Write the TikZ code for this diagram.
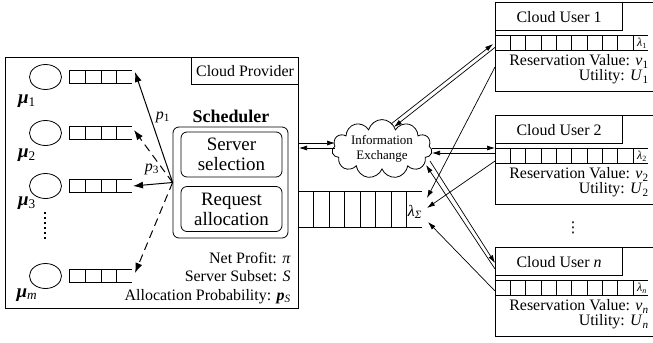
\documentclass[tikz,border=0pt]{standalone}
\usepackage{fontspec}
\setmainfont{Liberation Serif}
\newfontfamily\symbfont{DejaVu Sans}
\usetikzlibrary{arrows.meta,shapes.geometric,shapes.symbols}

\newcommand{\lowidx}[1]{\textsubscript{#1}}

\begin{document}
\begin{tikzpicture}[x=1bp,y=-1bp,line width=0.8bp,
    every node/.style={font=\fontsize{16}{15}\selectfont,inner sep=0pt},
    box/.style={draw,line width=1.1bp},
    roundbox/.style={draw,rounded corners=6bp},
    server/.style={draw,ellipse,minimum width=32bp,minimum height=25bp},
    bigtip/.style={-{Latex[length=10bp,width=7bp]},line width=1bp},
    smalltip/.style={-{Latex[length=8bp,width=5bp]},line width=0.7bp}]
    \useasboundingbox (0,0) rectangle (653,342);

    \node[box,anchor=north west,minimum width=293bp,minimum height=251bp] (provider) at (5,57) {};
    \node[box,anchor=north east,minimum width=107bp,minimum height=27bp] (cprov) at (provider.north east) {Cloud Provider};

    \node[font=\fontsize{18}{20}\selectfont\bfseries] (schedlabel) at (231,116) {Scheduler};
    \node[roundbox,minimum width=115bp,minimum height=111bp] (sched) at (230.5,182.5) {};
    \node[roundbox,minimum width=101bp,minimum height=45bp,align=center,font=\fontsize{19}{20}\selectfont] (sel) at (231.5,154.5) {Server\\selection};
    \node[roundbox,minimum width=101bp,minimum height=45bp,align=center,font=\fontsize{19}{20}\selectfont] (alloc) at (231.5,209) {Request\\allocation};
    \node[anchor=east,align=right,font=\fontsize{16}{18.5}\selectfont] (profit) at (291,278)
        {Net Profit: \textit{π}\\Server Subset: \textit{S}\\Allocation Probability: \textbf{\textit{p}}\lowidx{\textit{S}}};

    \foreach \n/\y/\my/\lab in {1/77/101/1, 2/133/155/2, 3/186/203/3, m/276/295/{\textit{m}}} {
        \node[server] (s\n) at (45.5,\y) {};
        \node[font=\fontsize{19}{19}\selectfont] (mu\n) at (27,\my) {\textbf{\textit{μ}}\lowidx{\lab}};
        \foreach \x in {69,85,101,116}
            \draw (\x,\y-6.5) -- (\x,\y+6.5);
        \draw (69,\y-6.5) -- (132,\y-6.5) (69,\y+6.5) -- (132,\y+6.5);
    }
    \draw[line width=1.5bp,dash pattern=on 1.5bp off 3.5bp] (45,212) -- (45,241);

    \coordinate (fan) at (sched.west);
    \coordinate (q1) at (135,72);
    \coordinate (q2) at (134,130);
    \coordinate (q3) at (133,186);
    \coordinate (qm) at (135,273);
    \draw[bigtip] (fan) -- (q1);
    \draw[bigtip,dash pattern=on 8bp off 5bp] (fan) -- (q2);
    \draw[bigtip] (fan) -- (q3);
    \draw[bigtip,dash pattern=on 8bp off 5bp] (fan) -- (qm);
    \node (p1) at (163,117) {\textit{p}\lowidx{1}};
    \node (p3) at (152,169) {\textit{p}\lowidx{3}};

    \foreach \x in {313.5,329,344.5,360,375.5,391,406.5}
        \draw (\x,191) -- (\x,227);
    \draw (298,191) -- (422,191) (298,227) -- (422,227);
    \node (lamsum) at (415,212) {\textit{λ}\lowidx{\textit{Σ}}};

    \node[cloud,draw,cloud puffs=11,aspect=2.1,minimum width=100bp,minimum height=48bp,align=center,
        font=\fontsize{13}{15}\selectfont] (info) at (382,149) {Information\\Exchange};

    \coordinate (pa) at (298,143);
    \coordinate (ia) at (335,143);
    \coordinate (ib) at (335,148);
    \coordinate (pb) at (299,148);
    \draw[smalltip] (pa) -- (ia);
    \draw[smalltip] (ib) -- (pb);

    \foreach \k/\yt/\lab in {1/2/1, 2/115/2, n/247/{\textit{n}}} {
        \node[box,anchor=north west,minimum width=162bp,minimum height=89bp] (u\k) at (495,\yt) {};
        \node[box,anchor=north west,minimum width=127bp,minimum height=28bp] (title\k) at (495,\yt) {Cloud User \lab};
        \foreach \j in {0,...,9}
            \draw (495+15.35*\j,\yt+33) -- (495+15.35*\j,\yt+48);
        \draw (495,\yt+33) -- (648,\yt+33) (495,\yt+48) -- (648,\yt+48);
        \node[font=\fontsize{12}{12}\selectfont] (lam\k) at (642,\yt+41) {\textit{λ}\lowidx{\lab}};
        \node[anchor=east,align=right] (res\k) at (649,\yt+67.5) {Reservation Value: \textit{v}\lowidx{\lab}\\Utility: \textit{U}\lowidx{\lab}};
    }
    \node[font=\fontsize{15}{15}\symbfont] (udots) at (573,228) {⋮};

    \coordinate (c1a) at (391,124);
    \coordinate (u1a) at (493,44);
    \coordinate (u1b) at (495.5,47);
    \coordinate (c1b) at (394,127);
    \draw[smalltip] (c1a) -- (u1a);
    \draw[smalltip] (u1b) -- (c1b);

    \coordinate (c2a) at (432,148);
    \coordinate (u2a) at (495,148);
    \coordinate (u2b) at (495,153);
    \coordinate (c2b) at (432,153);
    \draw[smalltip] (c2a) -- (u2a);
    \draw[smalltip] (u2b) -- (c2b);

    \coordinate (cna) at (430,161);
    \coordinate (una) at (495,263);
    \coordinate (unb) at (495,269);
    \coordinate (cnb) at (426,165);
    \draw[smalltip] (cna) -- (una);
    \draw[smalltip] (unb) -- (cnb);

    \coordinate (u1s) at (495,67);
    \coordinate (ls1) at (427,198);
    \coordinate (u2s) at (495,161);
    \coordinate (ls2) at (427,208);
    \coordinate (uns) at (495,291);
    \coordinate (ls3) at (428,222);
    \draw[smalltip] (u1s) -- (ls1);
    \draw[smalltip] (u2s) -- (ls2);
    \draw[smalltip] (uns) -- (ls3);
\end{tikzpicture}
\end{document}
